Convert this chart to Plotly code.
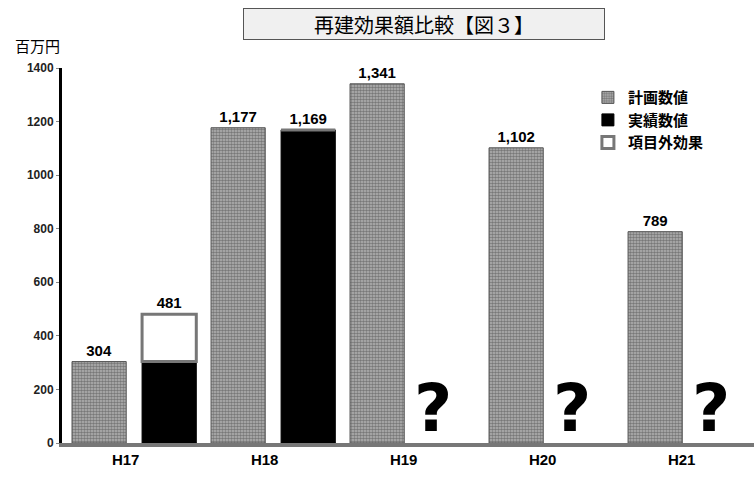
import plotly.graph_objects as go

categories = ["H17", "H18", "H19", "H20", "H21"]
plan_values = [304, 1177, 1341, 1102, 789]
actual_values = [304, 1169, None, None, None]
outside_values = [177, 0, None, None, None]
plan_labels = ["304", "1,177", "1,341", "1,102", "789"]
actual_labels = ["", "1,169", "", "", ""]
outside_labels = ["481", "", "", "", ""]
y_ticks = [0, 200, 400, 600, 800, 1000, 1200, 1400]

xpos = list(range(len(categories)))
lab_font = dict(family="Liberation Sans", size=15, color="black", weight="bold")
pat = dict(shape=".", fgcolor="#3c3c3c", bgcolor="#b4b4b4", size=3, solidity=0.55)

fig = go.Figure()
fig.add_trace(go.Bar(
    x=xpos, y=plan_values, name="計画数値", width=0.39, offset=-0.446,
    marker=dict(color="#8a8a8a", pattern=pat, line=dict(color="#555", width=1)),
    text=plan_labels, textposition="outside", textfont=lab_font, cliponaxis=False,
))
fig.add_trace(go.Bar(
    x=xpos, y=actual_values, name="実績数値", width=0.39, offset=0.058,
    marker=dict(color="black", line=dict(color="black", width=1)),
    text=actual_labels, textposition="outside", textfont=lab_font, cliponaxis=False,
))
fig.add_trace(go.Bar(
    x=xpos, y=outside_values, base=actual_values, name="項目外効果", width=0.39, offset=0.058,
    marker=dict(color="white", line=dict(color="#777", width=3)),
    text=outside_labels, textposition="outside", textfont=lab_font, cliponaxis=False,
))

for i, a in enumerate(actual_values):
    if a is None:
        fig.add_annotation(x=xpos[i] + 0.15, y=0, yanchor="bottom", text="<b>?</b>",
                           showarrow=False, yshift=-6,
                           font=dict(family="DejaVu Sans", size=66, color="black"))

fig.add_annotation(xref="paper", yref="paper", x=0.523, y=1.117, yanchor="middle",
                   text="再建効果額比較【図３】",
                   showarrow=False, width=358, height=28, bgcolor="#f0f0f0",
                   bordercolor="#555", borderwidth=1,
                   font=dict(family="Noto Sans CJK JP", size=20, color="black"))
fig.add_annotation(xref="paper", yref="paper", x=-0.071, y=1.059, xanchor="left", yanchor="middle",
                   text="百万円", showarrow=False,
                   font=dict(family="Noto Sans CJK JP", size=15, color="black"))

fig.update_layout(
    width=754, height=483,
    margin=dict(l=62, r=0, t=68, b=40),
    plot_bgcolor="white", paper_bgcolor="white",
    barmode="overlay",
    showlegend=True,
    legend=dict(x=0.76, y=0.965, xanchor="left", yanchor="top",
                font=dict(family="Noto Sans CJK JP", size=15, color="black", weight="bold"),
                itemwidth=30, tracegroupgap=0, bgcolor="rgba(0,0,0,0)"),
    font=dict(family="Liberation Sans", color="black"),
)
fig.update_xaxes(range=[-0.518, 4.46], tickvals=[p - 0.06 for p in xpos], ticktext=categories,
                 showline=True, linecolor="#777", linewidth=4, showgrid=False, zeroline=False,
                 tickfont=dict(family="Liberation Sans", size=15, color="black", weight="bold"),
                 ticks="")
fig.update_yaxes(range=[0, 1400], tickvals=y_ticks, ticktext=[str(v) for v in y_ticks],
                 showline=True, linecolor="black", linewidth=3, showgrid=False, zeroline=False,
                 ticks="outside", ticklen=3, tickcolor="#888",
                 tickfont=dict(family="Liberation Sans", size=12, color="#222", weight="bold"))

fig.write_html("out.html")
